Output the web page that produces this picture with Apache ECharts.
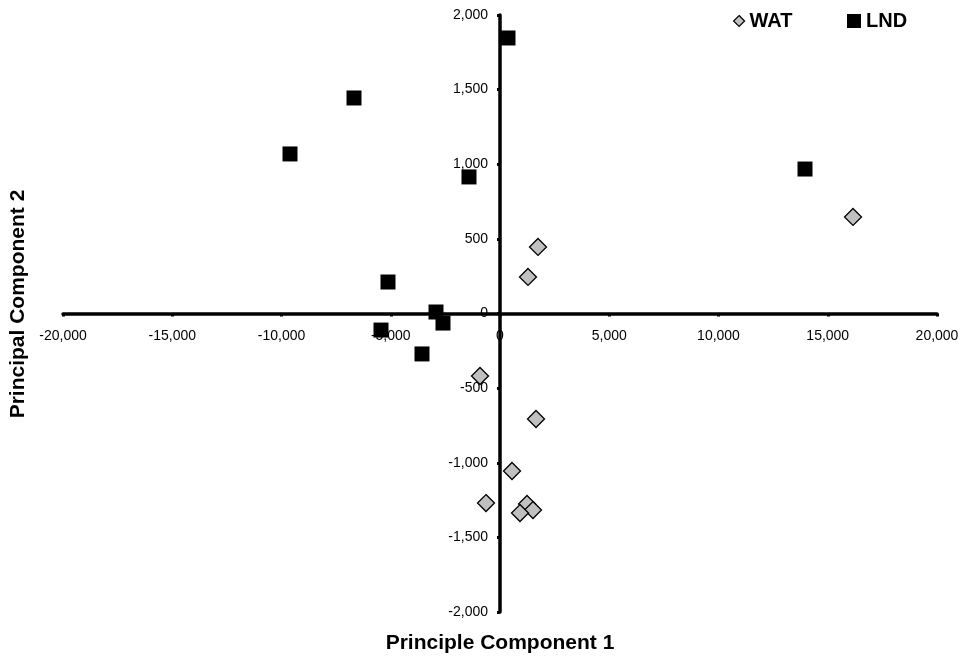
<!DOCTYPE html>
<html><head><meta charset="utf-8">
<script src="https://cdn.jsdelivr.net/npm/echarts@6/dist/echarts.min.js"></script>
<style>html,body{margin:0;padding:0;background:#fff}#c{width:965px;height:660px}</style>
</head><body><div id="c"></div>
<script>
const watX = [16156, 1739, 1281, -915, 1648, 549, -641, 1236, 1510, 915];
const watY = [647, 446, 245, -419, -707, -1055, -1270, -1276, -1317, -1337];
const lndX = [366, -6682, -9611, -1419, 13959, -5126, -2929, -2609, -5446, -3570];
const lndY = [1846, 1444, 1069, 915, 968, 211, 10, -64, -111, -271];
const xTitle = 'Principle Component 1';
const yTitle = 'Principal Component 2';

const pair = (xs, ys) => xs.map((x, i) => [x, ys[i]]);
const fmt = v => v.toLocaleString('en-US');
const font = 'Liberation Sans, Arial, sans-serif';
const legendText = {fontFamily: font, fontWeight: 'bold', fontSize: 20, color: '#000'};
const chart = echarts.init(document.getElementById('c'));
chart.setOption({
  animation: false,
  grid: {left: 63, right: 28, top: 15, bottom: 48, containLabel: false},
  legend: [
    {left: 728, top: 6, itemWidth: 11, itemHeight: 11, itemGap: 0, textStyle: legendText,
     itemStyle: {borderColor: '#000', borderWidth: 1.2},
     data: [{name: 'WAT', icon: 'diamond'}]},
    {left: 842, top: 6, itemWidth: 14, itemHeight: 14, itemGap: 0, textStyle: legendText,
     data: [{name: 'LND', icon: 'rect'}]}
  ],
  xAxis: {
    type: 'value', min: -20000, max: 20000, interval: 5000,
    position: 'bottom', offset: -298.5,
    axisLine: {onZero: false, lineStyle: {color: '#000', width: 3.5}},
    axisTick: {show: true, length: 3, lineStyle: {color: '#000', width: 3}},
    axisLabel: {fontFamily: font, fontSize: 14, color: '#000', margin: 16, formatter: fmt},
    splitLine: {show: false}
  },
  yAxis: {
    type: 'value', min: -2000, max: 2000, interval: 500,
    position: 'left', offset: -437,
    axisLine: {onZero: false, lineStyle: {color: '#000', width: 3.5}},
    axisTick: {show: true, length: 3, lineStyle: {color: '#000', width: 3}},
    axisLabel: {fontFamily: font, fontSize: 14, color: '#000', margin: 12, formatter: fmt},
    splitLine: {show: false}
  },
  graphic: [
    {type: 'text', x: 500, y: 633, style: {text: xTitle, font: 'bold 21px ' + font, fill: '#000', align: 'center', verticalAlign: 'top'}},
    {type: 'text', x: 8, y: 304, rotation: Math.PI / 2, style: {text: yTitle, font: 'bold 21px ' + font, fill: '#000', align: 'center', verticalAlign: 'top'}}
  ],
  series: [
    {name: 'WAT', type: 'scatter', symbol: 'diamond', symbolSize: 17, data: pair(watX, watY),
     itemStyle: {color: '#c0c0c0', borderColor: '#000', borderWidth: 1.3, opacity: 1}},
    {name: 'LND', type: 'scatter', symbol: 'rect', symbolSize: 15, data: pair(lndX, lndY),
     itemStyle: {color: '#000', opacity: 1}}
  ]
});
</script></body></html>
